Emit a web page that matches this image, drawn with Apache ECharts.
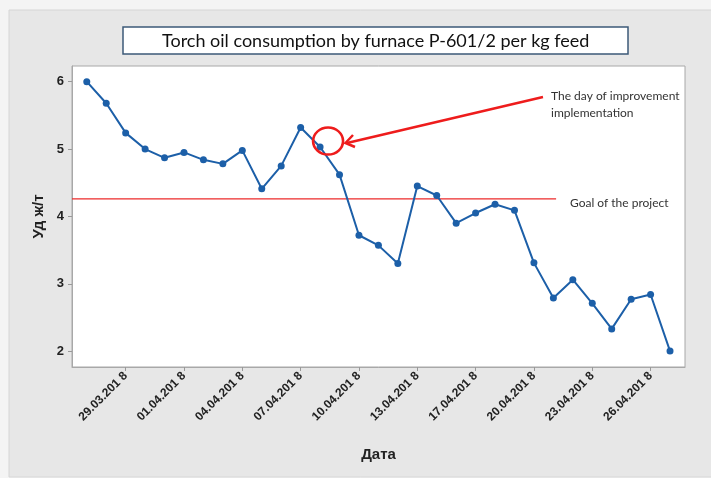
<!DOCTYPE html>
<html>
<head>
<meta charset="utf-8">
<script src="https://cdn.jsdelivr.net/npm/echarts@6/dist/echarts.min.js"></script>
<style>
  html, body { margin: 0; padding: 0; background: #f4f4f4; }
  #main { width: 711px; height: 478px; }
</style>
</head>
<body>
<div id="main"></div>
<script>
// данные: расход топлива по дням (индекс точки = день)
var dates = ['27.03.201 8','28.03.201 8','29.03.201 8','30.03.201 8','31.03.201 8',
             '01.04.201 8','02.04.201 8','03.04.201 8','04.04.201 8','05.04.201 8',
             '06.04.201 8','07.04.201 8','08.04.201 8','09.04.201 8','10.04.201 8',
             '11.04.201 8','12.04.201 8','13.04.201 8','15.04.201 8','16.04.201 8',
             '17.04.201 8','18.04.201 8','19.04.201 8','20.04.201 8','21.04.201 8',
             '22.04.201 8','23.04.201 8','24.04.201 8','25.04.201 8','26.04.201 8',
             '27.04.201 8'];
var values = [6.0, 5.68, 5.24, 5.0, 4.87, 4.95, 4.84, 4.78, 4.98, 4.41,
              4.75, 5.32, 5.03, 4.62, 3.72, 3.57, 3.30, 4.45, 4.31, 3.90,
              4.05, 4.18, 4.09, 3.31, 2.79, 3.06, 2.71, 2.33, 2.77, 2.84, 2.00];
var tickIdx = [2, 5, 8, 11, 14, 17, 20, 23, 26, 29];   // подписи оси X
var yTicks = [2, 3, 4, 5, 6];
var goal = 4.26;          // цель проекта
var goalEndIdx = 24.14;   // где кончается линия цели
var improvementIdx = 12;  // день внедрения улучшения

var xMin = -0.76, xMax = 30.77;
var yMin = 1.764, yMax = 6.233;

var seriesData = values.map(function (v, i) { return [i, v]; });
var red = '#ee1c1c';

var myChart = echarts.init(document.getElementById('main'));
var option = {
    backgroundColor: '#f4f4f4',
    animation: false,
    graphic: [
        {
            type: 'rect', z: -10,
            shape: { x: 9, y: 10, width: 710, height: 467 },
            style: { fill: '#e7e7e7', stroke: '#d6d6d6', lineWidth: 1 }
        },
        {
            type: 'text', left: 551, top: 88,
            style: {
                text: 'The day of improvement\nimplementation',
                fill: '#333', font: '12px Lato', lineHeight: 17
            }
        },
        {
            type: 'text', left: 570, top: 197,
            style: { text: 'Goal of the project', fill: '#333', font: '12px Lato' }
        },
        {
            // стрелка
            type: 'line',
            shape: { x1: 543, y1: 97, x2: 347, y2: 143 },
            style: { stroke: red, lineWidth: 2.5 }
        },
        {
            type: 'polyline',
            shape: { points: [[353, 135], [345.5, 143], [355, 147]] },
            style: { stroke: red, lineWidth: 2.5, fill: null }
        }
    ],
    title: {
        text: 'Torch oil consumption by furnace P-601/2 per kg feed',
        left: 123,
        top: 27,
        padding: [5, 39, 4, 39],
        backgroundColor: '#fff',
        borderColor: '#3c5a78',
        borderWidth: 1.5,
        textStyle: {
            fontFamily: 'Lato',
            fontWeight: 'normal',
            fontSize: 18,
            color: '#111'
        }
    },
    grid: {
        left: 72, top: 66, right: 26, bottom: 111,
        show: true,
        backgroundColor: '#fff',
        borderColor: '#a8a8a8',
        borderWidth: 1
    },
    xAxis: {
        type: 'value',
        min: xMin,
        max: xMax,
        name: 'Дата',
        nameLocation: 'middle',
        nameGap: 80,
        nameTextStyle: { fontFamily: 'Liberation Sans', fontWeight: 'bold', fontSize: 15, color: '#222' },
        splitLine: { show: false },
        axisLine: { onZero: false, lineStyle: { color: '#a8a8a8' } },
        axisTick: { customValues: tickIdx, length: 4, lineStyle: { color: '#999' } },
        axisLabel: {
            customValues: tickIdx,
            rotate: 45,
            margin: 7,
            fontFamily: 'Liberation Sans',
            fontWeight: 'bold',
            fontSize: 12,
            color: '#222',
            formatter: function (v) { return dates[Math.round(v)]; }
        }
    },
    yAxis: {
        type: 'value',
        min: yMin,
        max: yMax,
        name: 'Уд ж/т',
        nameLocation: 'middle',
        nameGap: 26,
        nameTextStyle: { fontFamily: 'Liberation Sans', fontWeight: 'bold', fontSize: 15, color: '#222' },
        splitLine: { show: false },
        axisLine: { show: true, onZero: false, lineStyle: { color: '#a8a8a8' } },
        axisTick: { show: true, customValues: yTicks, length: 4, lineStyle: { color: '#999' } },
        axisLabel: {
            customValues: yTicks,
            margin: 8,
            fontFamily: 'Liberation Sans',
            fontWeight: 'bold',
            fontSize: 13,
            color: '#222'
        }
    },
    series: [
        {
            // линия цели проекта
            name: 'goal',
            type: 'line',
            data: [[xMin, goal], [goalEndIdx, goal]],
            symbol: 'none',
            silent: true,
            lineStyle: { color: '#ec2a2a', width: 1.3 },
            itemStyle: { color: '#ec2a2a' },
            z: 1
        },
        {
            name: 'Уд ж/т',
            type: 'line',
            data: seriesData,
            symbol: 'circle',
            symbolSize: 7,
            lineStyle: { color: '#1c5fa8', width: 2 },
            itemStyle: { color: '#1c5fa8' },
            z: 2,
            markPoint: {
                silent: true,
                symbol: 'circle',
                symbolSize: [30, 27],
                symbolOffset: [8, -6],
                label: { show: false },
                itemStyle: { color: 'rgba(0,0,0,0)', borderColor: red, borderWidth: 2.5 },
                data: [{ coord: [improvementIdx, values[improvementIdx]] }]
            }
        }
    ]
};
myChart.setOption(option);
</script>
</body>
</html>
